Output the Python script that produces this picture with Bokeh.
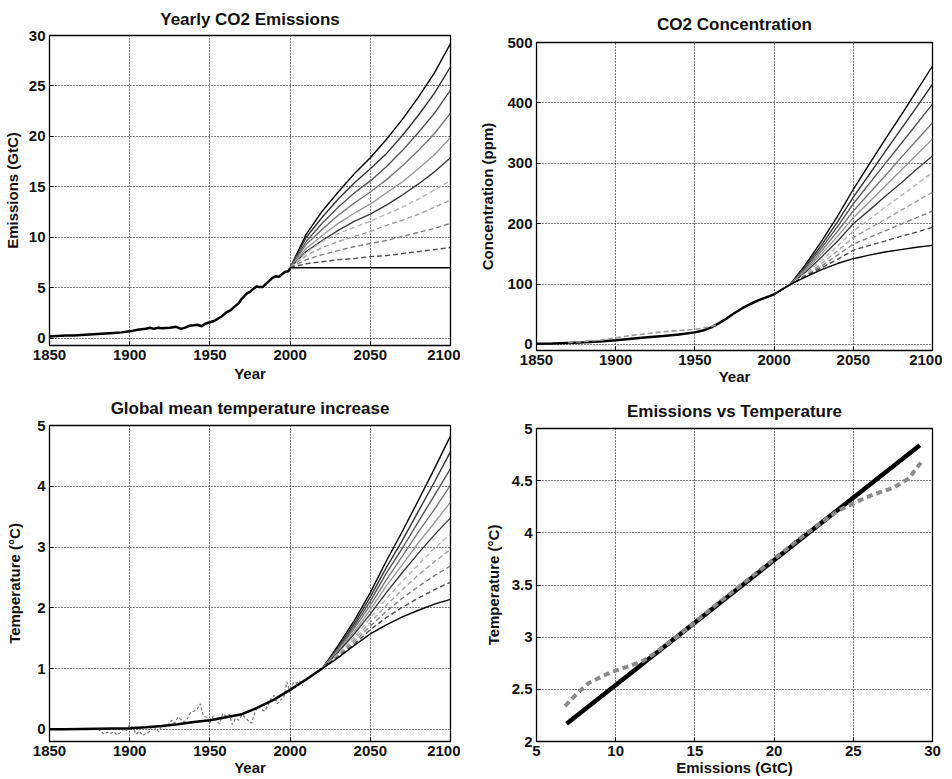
from bokeh.plotting import figure
from bokeh.layouts import column, row
from bokeh.models import FixedTicker, Range1d
from bokeh.embed import file_html
from bokeh.resources import INLINE

FONT = "Liberation Sans"

# ---------------- data ----------------
# historical emissions (GtC/yr)
emis_hist_years = [1850, 1855, 1860, 1865, 1870, 1875, 1880, 1885, 1890, 1895, 1900, 1905, 1910, 1913,
                   1915, 1918, 1920, 1925, 1929, 1932, 1935, 1937, 1940, 1942, 1945, 1947, 1950, 1953,
                   1955, 1958, 1960, 1963, 1965, 1968, 1970, 1973, 1975, 1977, 1979, 1981, 1983, 1985,
                   1987, 1989, 1991, 1993, 1995, 1997, 1999, 2000]
emis_hist = [0.20, 0.25, 0.28, 0.30, 0.35, 0.40, 0.45, 0.50, 0.55, 0.60, 0.70, 0.85, 0.95, 1.05,
             0.95, 1.05, 1.00, 1.05, 1.15, 0.95, 1.10, 1.25, 1.30, 1.35, 1.20, 1.45, 1.60, 1.75,
             1.95, 2.25, 2.55, 2.80, 3.10, 3.50, 3.95, 4.45, 4.60, 4.90, 5.15, 5.10, 5.10, 5.40,
             5.70, 6.00, 6.15, 6.10, 6.35, 6.60, 6.65, 6.95]

scen_years = [2000, 2010, 2020, 2030, 2040, 2050, 2060, 2070, 2080, 2090, 2100]
emis_scen = [
    [7.0, 10.3, 12.6, 14.5, 16.3, 17.9, 19.7, 21.7, 23.9, 26.3, 29.2],
    [7.0, 10.0, 12.0, 13.8, 15.4, 16.8, 18.3, 20.1, 22.1, 24.3, 26.9],
    [7.0, 9.6, 11.4, 13.0, 14.4, 15.6, 17.0, 18.6, 20.4, 22.3, 24.6],
    [7.0, 9.3, 10.8, 12.2, 13.4, 14.5, 15.7, 17.1, 18.6, 20.3, 22.3],
    [7.0, 8.9, 10.2, 11.4, 12.4, 13.3, 14.4, 15.5, 16.8, 18.2, 19.9],
    [7.0, 8.6, 9.7, 10.7, 11.6, 12.3, 13.2, 14.2, 15.3, 16.5, 17.9],
    [7.0, 8.5, 9.6, 10.4, 11.0, 11.6, 12.3, 13.0, 13.8, 14.7, 15.6],
    [7.0, 8.2, 9.0, 9.6, 10.1, 10.6, 11.2, 11.7, 12.3, 13.0, 13.7],
    [7.0, 7.8, 8.3, 8.7, 9.1, 9.4, 9.7, 10.1, 10.5, 10.9, 11.4],
    [7.0, 7.4, 7.6, 7.8, 7.9, 8.1, 8.2, 8.4, 8.6, 8.8, 9.0],
    [7.0, 7.0, 7.0, 7.0, 7.0, 7.0, 7.0, 7.0, 7.0, 7.0, 7.0],
]

# CO2 concentration (ppm above preindustrial)
conc_hist_years = [1850, 1860, 1870, 1880, 1890, 1900, 1910, 1920, 1930, 1940, 1950, 1955, 1960,
                   1965, 1970, 1975, 1980, 1985, 1990, 1995, 2000]
conc_hist = [1, 1.5, 2.5, 3.5, 5, 7, 9.5, 12, 14, 16.5, 20, 23, 28, 35, 43, 52, 60, 67, 73, 78, 83]
conc_obs_years = [1870, 1880, 1890, 1900, 1910, 1920, 1930, 1940, 1950, 1960, 1965]
conc_obs = [3, 5, 7, 11, 15, 18, 21, 23, 25, 29, 35]
conc_scen = [
    [83, 99, 133, 171, 212, 257, 298, 339, 379, 420, 461],
    [83, 99, 130, 165, 203, 244, 281, 319, 356, 393, 431],
    [83, 99, 128, 160, 195, 233, 266, 299, 332, 365, 398],
    [83, 99, 125, 155, 187, 221, 250, 279, 309, 338, 367],
    [83, 99, 123, 150, 179, 210, 236, 262, 288, 314, 340],
    [83, 99, 120, 145, 171, 200, 222, 245, 267, 290, 312],
    [83, 99, 118, 139, 163, 188, 207, 227, 246, 265, 285],
    [83, 99, 115, 134, 155, 177, 192, 207, 222, 237, 252],
    [83, 99, 114, 130, 148, 166, 177, 188, 199, 210, 221],
    [83, 99, 113, 127, 141, 156, 164, 171, 179, 186, 194],
    [83, 99, 112, 124, 134, 142, 148, 153, 157, 161, 164],
]

# temperature increase (deg C)
temp_hist_years = [1850, 1860, 1870, 1880, 1890, 1900, 1910, 1920, 1930, 1940, 1950, 1960, 1970,
                   1980, 1990, 2000, 2010, 2020]
temp_hist = [0.0, 0.0, 0.005, 0.01, 0.015, 0.02, 0.035, 0.055, 0.085, 0.12, 0.15, 0.2, 0.25,
             0.36, 0.49, 0.65, 0.82, 1.0]
temp_obs_years = list(range(1880, 2009, 2))
temp_obs = [0.00, -0.03, -0.08, -0.05, -0.07, -0.04, -0.09, -0.06, 0.01, -0.02,
            0.08, 0.03, -0.08, -0.03, -0.10, -0.07, -0.05, 0.05, 0.02, -0.04,
            0.06, 0.04, 0.07, 0.15, 0.10, 0.20, 0.16, 0.12, 0.18, 0.28,
            0.30, 0.33, 0.42, 0.22, 0.20, 0.10, 0.22, 0.14, 0.09, 0.26,
            0.22, 0.25, 0.08, 0.18, 0.15, 0.24, 0.20, 0.14, 0.10, 0.28,
            0.38, 0.33, 0.30, 0.38, 0.50, 0.56, 0.42, 0.48, 0.52, 0.78,
            0.60, 0.77, 0.76, 0.80, 0.72]
temp_scen_years = [2020, 2030, 2040, 2050, 2060, 2070, 2080, 2090, 2100]
temp_scen = [
    [1.0, 1.38, 1.79, 2.25, 2.77, 3.26, 3.77, 4.29, 4.83],
    [1.0, 1.35, 1.74, 2.18, 2.66, 3.11, 3.59, 4.07, 4.57],
    [1.0, 1.33, 1.70, 2.11, 2.57, 2.98, 3.42, 3.85, 4.29],
    [1.0, 1.31, 1.66, 2.04, 2.46, 2.85, 3.25, 3.62, 4.02],
    [1.0, 1.29, 1.61, 1.97, 2.36, 2.71, 3.07, 3.40, 3.74],
    [1.0, 1.27, 1.57, 1.90, 2.25, 2.58, 2.90, 3.20, 3.48],
    [1.0, 1.25, 1.52, 1.83, 2.15, 2.44, 2.71, 2.98, 3.21],
    [1.0, 1.23, 1.48, 1.76, 2.04, 2.30, 2.54, 2.76, 2.96],
    [1.0, 1.21, 1.44, 1.70, 1.94, 2.16, 2.35, 2.53, 2.69],
    [1.0, 1.19, 1.40, 1.64, 1.84, 2.01, 2.16, 2.30, 2.42],
    [1.0, 1.18, 1.38, 1.57, 1.72, 1.85, 1.96, 2.06, 2.14],
]

# emissions vs temperature
fit_emis = [6.9, 29.2]
fit_temp = [2.17, 4.84]
curve_emis = [6.8, 7.5, 8.3, 9.2, 10.0, 10.8, 11.7, 12.5, 13.3, 14.5, 16.0, 18.0, 20.0, 22.0,
              24.0, 25.0, 25.8, 26.7, 27.5, 28.5, 29.3]
curve_temp = [2.34, 2.45, 2.56, 2.63, 2.68, 2.72, 2.77, 2.85, 2.94, 3.08, 3.27, 3.51, 3.75, 3.99,
              4.21, 4.28, 4.34, 4.39, 4.43, 4.52, 4.68]

year_ticks = [1850, 1900, 1950, 2000, 2050, 2100]

# ---------------- styles ----------------
scen_colors = ["#000000", "#333333", "#555555", "#777777", "#9a9a9a", "#3c3c3c",
               "#b4b4b4", "#a0a0a0", "#808080", "#4a4a4a", "#000000"]
scen_dash = ["solid"] * 6 + ["5 3"] * 4 + ["solid"]


def make_fig(title, xlab, ylab, xr, yr, xticks, yticks, w, h, bl, br, bt, bb, ystand, xstand, tstand):
    p = figure(width=w, height=h, x_range=Range1d(*xr), y_range=Range1d(*yr),
               output_backend="svg", toolbar_location=None, title=title,
               min_border_left=bl, min_border_right=br, min_border_top=bt, min_border_bottom=bb)
    p.title.text_font = FONT
    p.title.text_font_size = "17px"
    p.title.text_font_style = "bold"
    p.title.align = "center"
    p.title.text_color = "#111111"
    p.title.standoff = tstand
    for ax in (p.xaxis[0], p.yaxis[0]):
        ax.major_label_text_font = FONT
        ax.major_label_text_font_size = "15px"
        ax.major_label_text_font_style = "bold"
        ax.major_label_text_color = "#111111"
        ax.axis_label_text_font = FONT
        ax.axis_label_text_font_size = "15px"
        ax.axis_label_text_font_style = "bold"
        ax.axis_label_text_color = "#111111"
        ax.major_tick_in = 4
        ax.major_tick_out = 0
        ax.minor_tick_in = 0
        ax.minor_tick_out = 0
        ax.major_tick_line_color = "black"
        ax.axis_line_color = None
        ax.major_label_standoff = 4
    p.yaxis[0].axis_label_standoff = ystand
    p.xaxis[0].axis_label_standoff = xstand
    p.xaxis.axis_label = xlab
    p.yaxis.axis_label = ylab
    p.xaxis.ticker = FixedTicker(ticks=xticks)
    p.yaxis.ticker = FixedTicker(ticks=yticks)
    p.grid.grid_line_color = "#000000"
    p.grid.grid_line_dash = "1 2"
    p.grid.grid_line_width = 1
    p.outline_line_color = "black"
    p.outline_line_width = 1.3
    p.outline_line_alpha = 1
    return p


# Panel 1
p1 = make_fig("Yearly CO2 Emissions", "Year", "Emissions (GtC)", (1850, 2100), (-0.7, 30),
              year_ticks, [0, 5, 10, 15, 20, 25, 30], 460, 387, 47, 10, 35, 42, 5, 2, 13)
for vals, c, d in zip(emis_scen, scen_colors, scen_dash):
    p1.line(scen_years, vals, line_color=c, line_dash=d, line_width=1.4)
p1.line(emis_hist_years, emis_hist, line_color="black", line_width=2.5)

# Panel 2
p2 = make_fig("CO2 Concentration", "Year", "Concentration (ppm)", (1850, 2100), (-10, 500),
              year_ticks, [0, 100, 200, 300, 400, 500], 482, 391, 76, 10, 42, 41, 8, 0, 18)
for vals, c, d in zip(conc_scen, scen_colors, scen_dash):
    p2.line(scen_years, vals, line_color=c, line_dash=d, line_width=1.4)
p2.line(conc_hist_years, conc_hist, line_color="black", line_width=2.5)
p2.line(conc_obs_years, conc_obs, line_color="#999999", line_dash="5 3", line_width=1.6)

# Panel 3
p3 = make_fig("Global mean temperature increase", "Year", "Temperature (°C)", (1850, 2100), (-0.2, 5),
              year_ticks, [0, 1, 2, 3, 4, 5], 460, 391, 47, 10, 38, 37, 11, 0, 16)
for vals, c, d in zip(temp_scen, scen_colors, scen_dash):
    p3.line(temp_scen_years, vals, line_color=c, line_dash=d, line_width=1.4)
p3.line(temp_obs_years, temp_obs, line_color="#777777", line_dash="3 2", line_width=1.2)
p3.line(temp_hist_years, temp_hist, line_color="black", line_width=2.5)

# Panel 4
p4 = make_fig("Emissions vs Temperature", "Emissions (GtC)", "Temperature (°C)", (5, 30), (2, 5),
              [5, 10, 15, 20, 25, 30], [2, 2.5, 3, 3.5, 4, 4.5, 5], 482, 387, 76, 10, 37, 37, 7, 0, 15)
p4.line(fit_emis, fit_temp, line_color="black", line_width=4.5)
p4.line(curve_emis, curve_temp, line_color="#8a8a8a", line_dash="6 4", line_width=4)

layout = row(column(p1, p3), column(p2, p4))
open("out.html", "w").write(file_html(layout, INLINE))
